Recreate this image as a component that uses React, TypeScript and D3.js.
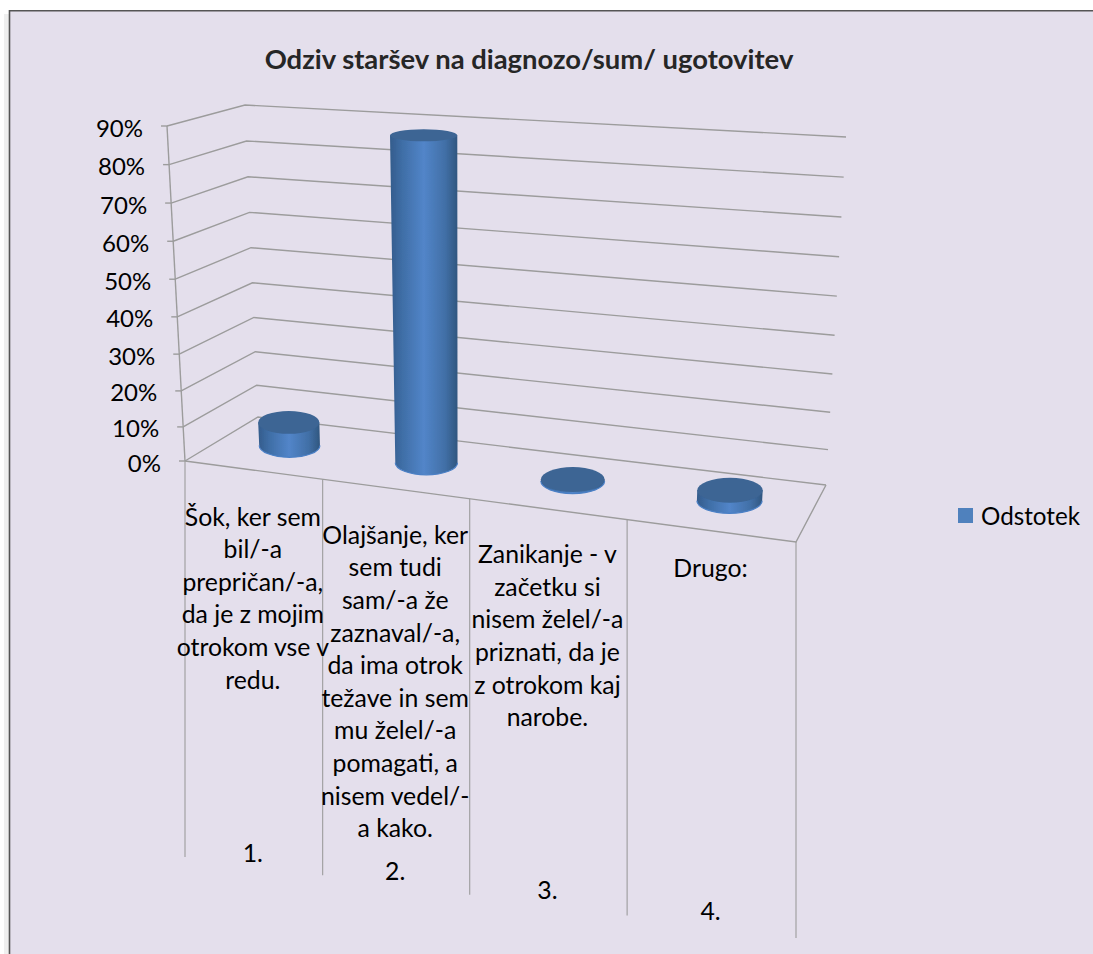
import React from "react";
import * as d3 from "d3";

const title = "Odziv staršev na diagnozo/sum/ ugotovitev";
const seriesName = "Odstotek";
const values = [7, 87, 0.5, 3];
const categoryLines = [
  ["Šok, ker sem", "bil/-a", "prepričan/-a,", "da je z mojim", "otrokom vse v", "redu."],
  ["Olajšanje, ker", "sem tudi", "sam/-a že", "zaznaval/-a,", "da ima otrok", "težave in sem", "mu želel/-a", "pomagati, a", "nisem vedel/-", "a kako."],
  ["Zanikanje - v", "začetku si", "nisem želel/-a", "priznati, da je", "z otrokom kaj", "narobe."],
  ["Drugo:"],
];
const categoryNumbers = ["1.", "2.", "3.", "4."];
const yTicks = [0, 10, 20, 30, 40, 50, 60, 70, 80, 90];

const W = 1093;
const H = 954;
const FONT = "Lato, Carlito, 'Open Sans', sans-serif";
const GRID = "#9c9c9c";
const BAR_DEPTH = 0.54;

type P = [number, number];
const F0L: P = [185, 461], F0R: P = [796, 542], B0L: P = [258, 417], B0R: P = [826, 485];
const F9L: P = [167, 126], F9R: P = [818, 145], B9L: P = [245, 105], B9R: P = [846, 137];

const heightT = d3.scalePow().exponent(1.04).domain([0, 90]).range([0, 1]);
const indexU = d3.scaleBand<number>().domain(d3.range(categoryLines.length)).range([0, 1]);
const persp = (u: number) => u / (u + 1.146 * (1 - u));
const mix = (a: P, b: P, t: number): P => [a[0] + (b[0] - a[0]) * t, a[1] + (b[1] - a[1]) * t];

function project(u: number, v: number, h: number): P {
  const t = persp(u);
  const floor = mix(mix(F0L, F0R, t), mix(B0L, B0R, t), v);
  const top = mix(mix(F9L, F9R, t), mix(B9L, B9R, t), v);
  return mix(floor, top, heightT(h));
}

const ryScale = d3.scaleLinear().domain([140, 480]).range([6, 12.5]).clamp(true);
const rxBase = d3.scaleLinear().domain([0, 1]).range([30, 33]);
const rxGrow = d3.scaleLinear().domain([0, 90]).range([0, 2.6]);
const line = d3.line<P>();

function Cylinder({ i, value }: { i: number; value: number }) {
  const u = (indexU(i) as number) + indexU.bandwidth() / 2;
  const b = project(u, BAR_DEPTH, 0);
  const t = project(u, BAR_DEPTH, value);
  const rb = rxBase(u);
  const rt = rb + rxGrow(value);
  const ryb = ryScale(b[1]);
  const ryt = ryScale(t[1]);
  const side = `M${t[0] - rt},${t[1]} L${b[0] - rb},${b[1]} A${rb},${ryb} 0 0 0 ${b[0] + rb},${b[1]} L${t[0] + rt},${t[1]} Z`;
  return (
    <g>
      <path d={side} fill="url(#cyl)" />
      <path d={`M${b[0] - rb},${b[1]} A${rb},${ryb} 0 0 0 ${b[0] + rb},${b[1]}`} fill="none" stroke="#4b80c6" strokeWidth={1.2} />
      <ellipse cx={t[0]} cy={t[1]} rx={rt} ry={ryt} fill="#3c6594" />
    </g>
  );
}

export default function App() {
  return (
    <svg width={W} height={H} style={{ position: "absolute", left: 0, top: 0, display: "block" }}>
      <defs>
        <linearGradient id="cyl" x1="0" x2="1" y1="0" y2="0">
          <stop offset="0" stopColor="#345c8c" />
          <stop offset="0.18" stopColor="#3f6ea6" />
          <stop offset="0.5" stopColor="#5285c9" />
          <stop offset="0.82" stopColor="#416fa6" />
          <stop offset="1" stopColor="#30567f" />
        </linearGradient>
        <filter id="soft" x="-5%" y="-5%" width="110%" height="110%">
          <feGaussianBlur stdDeviation="0.45" />
        </filter>
      </defs>
      <rect x={0} y={0} width={W} height={H} fill="#fff" />
      <rect x={4} y={14} width={5} height={H - 14} fill="#efefef" />
      <rect x={9} y={10} width={W - 9} height={H - 10} fill="#e4dfec" />
      <line x1={9.5} y1={10} x2={9.5} y2={H} stroke="#555" strokeWidth={1.6} />
      <line x1={9} y1={10.7} x2={W} y2={10.7} stroke="#555" strokeWidth={1.6} />

      <g filter="url(#soft)" fill="none" stroke={GRID} strokeWidth={1.4}>
        {yTicks.map((h) => (
          <g key={h}>
            <path d={line([project(0, 0, h), project(0, 1, h), project(1, 1, h)]) as string} />
            <path d={line([[project(0, 0, h)[0] - 6, project(0, 0, h)[1]], project(0, 0, h)]) as string} />
          </g>
        ))}
        <path d={line([project(0, 0, 0), project(0, 0, 90)]) as string} />
        <path d={line([project(0, 0, 0), project(1, 0, 0), project(1, 1, 0)]) as string} />
        {d3.range(categoryLines.length + 1).map((i) => {
          const p = project(i / categoryLines.length, 0, 0);
          return <path key={i} d={line([p, [p[0], p[1] + 396]]) as string} strokeWidth={1.1} />;
        })}
      </g>

      <g filter="url(#soft)">
        {values.map((v, i) => (
          <Cylinder key={i} i={i} value={v} />
        ))}
      </g>

      <g fontFamily={FONT} fill="#000">
        <text x={529} y={58} textAnchor="middle" dominantBaseline="central" fontSize={27.4} fontWeight={700} fill="#262626">
          {title}
        </text>
        {yTicks.map((h) => {
          const p = project(0, 0, h);
          return (
            <text key={h} x={p[0] - 24} y={p[1] + 1} textAnchor="end" dominantBaseline="central" fontSize={24}>
              {h}%
            </text>
          );
        })}
        {categoryLines.map((lines, i) => {
          const left = project(i / 4, 0, 0);
          const right = project((i + 1) / 4, 0, 0);
          const cx = (left[0] + right[0]) / 2 - 1;
          const y0 = left[1] + 55 - (i === 3 ? 7 : 0);
          return (
            <g key={i} textAnchor="middle" fontSize={24.8}>
              {lines.map((s, k) => (
                <text key={k} x={cx} y={y0 + k * 32.6} dominantBaseline="central">
                  {s}
                </text>
              ))}
              <text x={cx} y={left[1] + 391} dominantBaseline="central">
                {categoryNumbers[i]}
              </text>
            </g>
          );
        })}
        <rect x={958} y={508} width={15} height={15} fill="#4f81bd" />
        <text x={981} y={515.5} dominantBaseline="central" fontSize={24.2}>
          {seriesName}
        </text>
      </g>
    </svg>
  );
}
